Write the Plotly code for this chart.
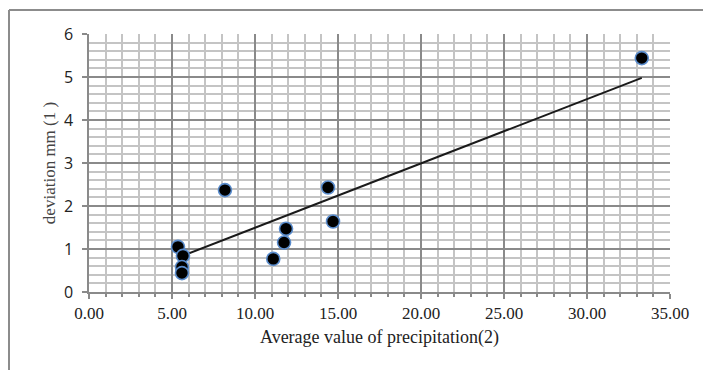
import plotly.graph_objects as go

# Data
precip = [5.36, 5.66, 5.60, 5.60, 8.19, 11.10, 11.75, 11.87, 14.40, 14.70, 33.30]
deviation = [1.05, 0.84, 0.58, 0.44, 2.37, 0.77, 1.15, 1.47, 2.43, 1.64, 5.44]
trend_x = [5.36, 33.30]
trend_y = [0.80, 4.98]
x_ticks = [0, 5, 10, 15, 20, 25, 30, 35]
x_tick_labels = ["0.00", "5.00", "10.00", "15.00", "20.00", "25.00", "30.00", "35.00"]
y_ticks = [0, 1, 2, 3, 4, 5, 6]

W, H = 703, 370
L, R, T, B = 89, 33, 34, 78
pw, ph = W - L - R, H - T - B

fig = go.Figure()
fig.add_trace(go.Scatter(
    x=trend_x, y=trend_y, mode="lines",
    line=dict(color="#1a1a1a", width=2), showlegend=False, hoverinfo="skip"))
fig.add_trace(go.Scatter(
    x=precip, y=deviation, mode="markers",
    marker=dict(color="black", size=13, line=dict(color="#5a8ccc", width=1.6)),
    showlegend=False))

grid_major = "#8a8a8a"
grid_minor = "#c4c4c4"

fig.update_xaxes(
    range=[0, 35], tickvals=x_ticks, ticktext=x_tick_labels,
    showgrid=True, gridcolor=grid_major, gridwidth=1.5,
    minor=dict(dtick=1, showgrid=True, gridcolor=grid_minor, gridwidth=2,
               ticks="outside", ticklen=3, tickcolor="#8a8a8a"),
    ticks="outside", ticklen=5, tickcolor="#8a8a8a", tickwidth=1.5,
    showline=True, linecolor="#8a8a8a", linewidth=1.5,
    zeroline=False,
    tickfont=dict(family="Liberation Serif", size=17, color="#222222"),
    title=dict(text="Average value of precipitation(2)",
               font=dict(family="Liberation Serif", size=18, color="#222222"),
               standoff=8),
)
fig.update_yaxes(
    range=[0, 6], tickvals=y_ticks,
    showgrid=True, gridcolor=grid_major, gridwidth=1.5,
    minor=dict(dtick=0.2, showgrid=True, gridcolor=grid_minor, gridwidth=2),
    ticks="outside", ticklen=5, tickcolor="#8a8a8a", tickwidth=1.5,
    showline=True, linecolor="#8a8a8a", linewidth=1.5,
    zeroline=False, ticklabelstandoff=6,
    tickfont=dict(family="Open Sans", size=16, color="#222222"),
    title=dict(text="deviation mm (1 )",
               font=dict(family="Liberation Serif", size=17, color="#444444"),
               standoff=4),
)

# outer chart frame (left and top edges visible)
fx = (9 - L) / pw
fy = 1 + (T - 10) / ph
fig.add_shape(type="line", xref="paper", yref="paper",
              x0=fx, x1=fx, y0=fy, y1=-1, line=dict(color="#8c8c8c", width=2))
fig.add_shape(type="line", xref="paper", yref="paper",
              x0=fx, x1=2, y0=fy, y1=fy, line=dict(color="#8c8c8c", width=2))

fig.update_layout(
    width=W, height=H,
    margin=dict(l=L, r=R, t=T, b=B),
    paper_bgcolor="white", plot_bgcolor="white",
    showlegend=False,
)

fig.write_html("out.html")
